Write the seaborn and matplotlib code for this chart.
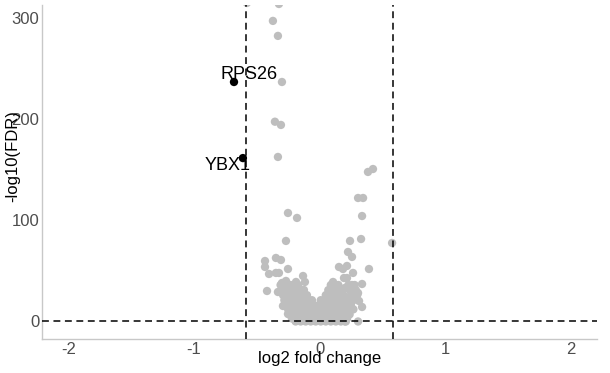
import matplotlib
matplotlib.use("Agg")
import matplotlib.pyplot as plt
import seaborn as sns
import pandas as pd

# Background genes (not significant): log2 fold change and -log10(FDR)
bg_log2fc = [
    -0.578, -0.323, -0.371, -0.331, -0.299, -0.355, -0.307, -0.331,
    -0.251, -0.179, -0.267, -0.434, -0.347, -0.307, -0.434, -0.402,
    -0.347, -0.323, -0.251, -0.131, -0.267, -0.299, -0.187, -0.116,
    -0.418, -0.331, -0.291, -0.195, -0.124, -0.275, -0.235, -0.291, -0.251,
    0.386, 0.426, 0.307, 0.347, 0.339, 0.243, 0.331, 0.578,
    0.227, 0.259, 0.155, 0.219, 0.187, 0.394, 0.195, 0.219, 0.267,
    0.108, 0.339, 0.203, 0.259, 0.307, 0.100, 0.315, 0.339, 0.203,
    0.307, 0.203,
    # core of the distribution
    -0.31, -0.27, -0.23, -0.17, 0.09, 0.15, 0.23, 0.28,
    -0.30, -0.26, -0.22, -0.18, -0.14, 0.07, 0.12, 0.17, 0.24, 0.29,
    -0.29, -0.25, -0.21, -0.17, -0.13, -0.10, 0.05, 0.10, 0.14, 0.19, 0.25, 0.30,
    -0.28, -0.24, -0.20, -0.16, -0.12, -0.09, -0.06, 0.01, 0.05, 0.09, 0.13, 0.17, 0.22, 0.27,
    -0.27, -0.23, -0.19, -0.15, -0.11, -0.07, -0.04, 0.00, 0.04, 0.08, 0.12, 0.16, 0.20, 0.25,
    -0.25, -0.21, -0.17, -0.13, -0.09, -0.05, -0.01, 0.03, 0.07, 0.11, 0.15, 0.19, 0.23, 0.27,
    -0.24, -0.20, -0.16, -0.12, -0.08, -0.04, 0.00, 0.04, 0.08, 0.12, 0.16, 0.20, 0.24,
    -0.22, -0.18, -0.14, -0.10, -0.06, -0.02, 0.02, 0.06, 0.10, 0.14, 0.18, 0.22,
    -0.19, -0.15, -0.11, -0.07, -0.03, 0.01, 0.05, 0.09, 0.13, 0.17, 0.21,
]
bg_neglog10fdr = [
    314.4, 313.4, 296.7, 281.9, 236.4, 197.2, 194.0, 162.4,
    107.1, 102.2, 79.5, 59.7, 62.7, 60.7, 53.8, 46.9,
    47.9, 47.9, 51.8, 44.9, 40.0, 38.0, 39.0, 39.0,
    30.1, 29.1, 29.1, 31.1, 31.1, 24.2, 24.2, 15.3, 7.4,
    147.6, 150.5, 121.9, 121.9, 104.1, 79.5, 81.4, 77.5,
    68.6, 63.7, 53.8, 54.8, 51.8, 51.8, 42.9, 42.9, 47.9,
    39.0, 37.0, 33.1, 36.0, 28.1, 31.1, 20.2, 14.3, 23.2,
    0.0, 0.0,
    36, 36, 36, 36, 36, 36, 36, 36,
    31, 31, 31, 31, 31, 31, 31, 31, 31, 31,
    26, 26, 26, 26, 26, 26, 26, 26, 26, 26, 26, 26,
    21, 21, 21, 21, 21, 21, 21, 21, 21, 21, 21, 21, 21, 21,
    16, 16, 16, 16, 16, 16, 16, 16, 16, 16, 16, 16, 16, 16,
    12, 12, 12, 12, 12, 12, 12, 12, 12, 12, 12, 12, 12, 12,
    7, 7, 7, 7, 7, 7, 7, 7, 7, 7, 7, 7, 7,
    3, 3, 3, 3, 3, 3, 3, 3, 3, 3, 3, 3,
    0, 0, 0, 0, 0, 0, 0, 0, 0, 0, 0,
]

# Significant genes that get a label
sig_genes = ["RPS26", "YBX1"]
sig_log2fc = [-0.681, -0.610]
sig_neglog10fdr = [236.4, 161.3]

fc_cutoff = 0.585
fdr_line = 0

x_ticks = [-2, -1, 0, 1, 2]
y_ticks = [0, 100, 200, 300]

df = pd.DataFrame({
    "log2FC": bg_log2fc + sig_log2fc,
    "nlog10FDR": bg_neglog10fdr + sig_neglog10fdr,
    "group": ["ns"] * len(bg_log2fc) + ["sig"] * len(sig_log2fc),
})

sns.set_style("white")
plt.rcParams["font.family"] = ["Liberation Sans", "DejaVu Sans"]

fig = plt.figure(figsize=(6.10, 3.73), dpi=100)
ax = fig.add_axes([42 / 610, 34 / 373, 555 / 610, 334 / 373])

sns.scatterplot(
    data=df, x="log2FC", y="nlog10FDR", hue="group",
    palette={"ns": "#BEBEBE", "sig": "black"},
    s=36, linewidth=0, legend=False, ax=ax, zorder=3,
)

dash = (0, (4.5, 3))
ax.axvline(-fc_cutoff, color="black", lw=1.1, linestyle=dash, zorder=4)
ax.axvline(fc_cutoff, color="black", lw=1.1, linestyle=dash, zorder=4)
ax.axhline(fdr_line, color="black", lw=1.1, linestyle=dash, zorder=4)

ax.text(sig_log2fc[0] + 0.12, sig_neglog10fdr[0] + 7, sig_genes[0],
        fontsize=13, ha="center", va="center", color="black", zorder=5)
ax.text(sig_log2fc[1] - 0.12, sig_neglog10fdr[1] - 7, sig_genes[1],
        fontsize=13, ha="center", va="center", color="black", zorder=5)

ax.set_xlim(-2.21, 2.21)
ax.set_ylim(-17.3, 312.4)
ax.set_xticks(x_ticks)
ax.set_yticks(y_ticks)
ax.set_xticklabels([str(v) for v in x_ticks])
ax.set_yticklabels([str(v) for v in y_ticks])

for side in ("top", "right"):
    ax.spines[side].set_visible(False)
for side in ("left", "bottom"):
    ax.spines[side].set_color("#C8C8C8")
    ax.spines[side].set_linewidth(1.0)

ax.tick_params(axis="both", which="major", length=1.5, width=0.8,
               color="#C8C8C8", labelcolor="#4D4D4D", labelsize=12, pad=0.5)

ax.set_xlabel("log2 fold change", fontsize=12, color="black")
ax.set_ylabel("-log10(FDR)", fontsize=12, color="black")
ax.xaxis.set_label_coords(0.5, -0.036)
ax.xaxis.label.set_va("top")
ax.yaxis.set_label_coords(-0.04, 0.548)

fig.savefig("out.png", dpi=100)
